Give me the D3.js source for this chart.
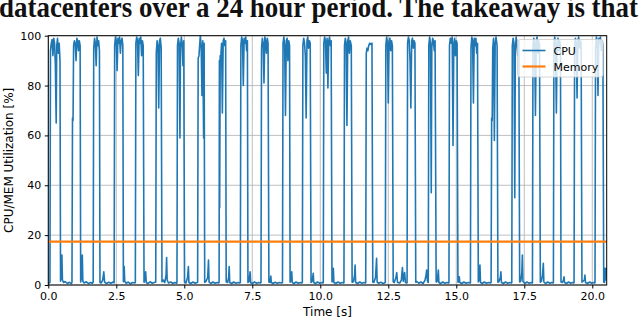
<!DOCTYPE html>
<html>
<head>
<meta charset="utf-8">
<script src="https://cdn.jsdelivr.net/npm/d3@7"></script>
<style>
  body { margin: 0; background: #fff; }
  svg { display: block; }
</style>
</head>
<body>
<div class="canvas"></div>
<script>
// data
const seriesNames = ["CPU", "Memory"];
const xTicks = [0, 2.5, 5, 7.5, 10, 12.5, 15, 17.5, 20];
const yTicks = [0, 20, 40, 60, 80, 100];

const memSamples = [[0, 17.4], [5, 17.4], [10, 17.4], [15, 17.4], [20.53, 17.4]];

const cpuSamples = [
  [0.00, 0.5], [0.04, 0.8],
  [0.06, 1.0], [0.08, 94], [0.11, 97], [0.14, 98.5], [0.17, 92], [0.20, 99], [0.23, 97], [0.26, 88], [0.29, 65], [0.31, 96], [0.34, 99], [0.37, 93], [0.40, 97], [0.43, 90],
  [0.45, 1.5], [0.48, 4], [0.50, 12], [0.52, 2], [0.56, 1], [0.62, 1.4], [0.70, 0.6], [0.78, 1.1], [0.84, 0.5],
  [0.87, 1.0], [0.89, 67], [0.91, 66], [0.93, 96], [0.96, 98], [0.99, 97], [1.02, 90], [1.05, 99], [1.08, 98], [1.11, 94], [1.14, 98], [1.17, 96],
  [1.19, 1.2], [1.22, 3], [1.25, 12], [1.27, 1.5], [1.32, 0.8], [1.40, 1.3], [1.48, 0.6], [1.56, 1.0], [1.62, 0.7],
  [1.65, 1.2], [1.67, 95], [1.70, 99], [1.73, 97], [1.76, 88], [1.79, 99.5], [1.82, 96], [1.85, 98], [1.88, 94],
  [1.90, 1.0], [1.94, 0.8], [2.00, 2], [2.04, 5.3], [2.07, 1.2], [2.14, 0.6], [2.22, 1.1], [2.30, 0.7], [2.38, 1.2],
  [2.42, 0.9], [2.44, 96], [2.47, 99.5], [2.50, 98], [2.53, 86], [2.56, 99], [2.59, 97], [2.62, 99.5], [2.65, 93], [2.68, 98], [2.71, 99], [2.74, 96],
  [2.76, 1.3], [2.79, 7.4], [2.81, 1.5], [2.86, 0.7], [2.94, 1.2], [3.02, 0.5], [3.10, 1.0], [3.18, 0.8],
  [3.20, 1.0], [3.22, 97], [3.25, 99.5], [3.28, 98], [3.31, 84], [3.34, 99], [3.37, 97], [3.40, 99.5], [3.43, 92], [3.46, 98], [3.49, 96],
  [3.52, 1.1], [3.55, 2], [3.58, 5.3], [3.60, 1.0], [3.66, 0.6], [3.74, 1.3], [3.82, 0.7], [3.90, 1.0],
  [3.95, 1.2], [3.97, 93], [4.00, 98], [4.03, 96], [4.06, 71], [4.09, 98], [4.12, 99], [4.15, 95],
  [4.18, 1.3], [4.22, 2], [4.28, 1], [4.33, 4], [4.35, 11], [4.37, 2], [4.42, 0.8], [4.50, 1.2], [4.58, 0.6], [4.66, 1.0], [4.72, 0.7],
  [4.73, 1.0], [4.75, 96], [4.78, 99], [4.81, 97], [4.84, 59], [4.86, 95], [4.89, 99.5], [4.92, 97], [4.95, 88], [4.98, 98],
  [5.01, 1.2], [5.06, 0.8], [5.12, 3], [5.15, 7.4], [5.17, 1.0], [5.24, 0.6], [5.32, 1.2], [5.40, 0.7], [5.47, 1.0],
  [5.49, 1.1], [5.51, 91], [5.54, 92], [5.57, 97], [5.59, 100], [5.62, 96], [5.65, 76], [5.68, 98], [5.71, 59], [5.73, 97],
  [5.75, 1.0], [5.80, 1.5], [5.86, 3], [5.89, 10], [5.91, 1.2], [5.97, 0.6], [6.05, 1.2], [6.13, 0.7], [6.21, 1.0], [6.26, 0.8],
  [6.28, 1.0], [6.29, 90], [6.30, 31], [6.32, 92], [6.34, 91], [6.37, 97], [6.40, 69], [6.43, 98], [6.46, 99], [6.49, 96], [6.52, 98],
  [6.54, 1.3], [6.59, 1.0], [6.63, 3], [6.65, 7.4], [6.67, 1.0], [6.74, 0.6], [6.82, 1.2], [6.90, 0.7], [6.98, 1.0], [7.04, 0.8],
  [7.06, 1.1], [7.08, 96], [7.11, 99.5], [7.14, 98], [7.17, 80], [7.20, 99], [7.23, 97], [7.26, 99.5], [7.29, 94], [7.32, 98],
  [7.34, 1.0], [7.38, 1.4], [7.42, 5.3], [7.44, 0.9], [7.50, 0.6], [7.58, 1.2], [7.66, 0.7], [7.74, 1.0], [7.80, 0.8],
  [7.82, 1.0], [7.84, 95], [7.87, 99], [7.90, 97], [7.93, 81], [7.96, 99.5], [7.99, 98], [8.02, 93], [8.05, 99], [8.08, 97],
  [8.11, 1.2], [8.15, 1.0], [8.18, 3.6], [8.20, 1.0], [8.26, 0.6], [8.34, 1.1], [8.42, 0.7], [8.50, 1.0], [8.58, 0.8],
  [8.61, 1.0], [8.63, 97], [8.66, 99.5], [8.69, 96], [8.72, 68], [8.75, 98], [8.78, 99], [8.81, 90], [8.84, 98], [8.87, 96],
  [8.89, 1.1], [8.93, 2], [8.95, 5.3], [8.97, 1.0], [9.03, 0.6], [9.11, 1.2], [9.19, 0.7], [9.27, 1.0], [9.32, 0.8],
  [9.34, 1.1], [9.36, 96], [9.39, 99], [9.42, 97], [9.45, 92], [9.48, 67], [9.51, 98], [9.54, 99.5], [9.57, 95], [9.60, 98], [9.63, 97],
  [9.66, 1.0], [9.70, 1.5], [9.74, 4.7], [9.76, 1.0], [9.82, 0.6], [9.90, 1.2], [9.98, 0.7], [10.06, 1.0], [10.10, 0.8],
  [10.11, 1.0], [10.13, 97], [10.16, 99.5], [10.19, 98], [10.22, 85], [10.25, 99], [10.28, 79], [10.31, 98], [10.34, 99.5], [10.37, 96], [10.40, 98],
  [10.43, 1.2], [10.46, 2], [10.48, 6.7], [10.50, 1.0], [10.57, 0.6], [10.65, 1.2], [10.73, 0.7], [10.81, 1.0], [10.86, 0.8],
  [10.87, 1.0], [10.89, 96], [10.92, 99], [10.95, 97], [10.98, 64], [11.01, 98], [11.04, 99.5], [11.07, 93], [11.10, 98], [11.14, 96],
  [11.17, 1.1], [11.22, 1.4], [11.26, 4], [11.28, 8], [11.30, 1.0], [11.37, 0.6], [11.45, 1.2], [11.53, 0.7], [11.61, 1.0], [11.66, 0.8],
  [11.67, 1.0], [11.69, 93], [11.72, 95], [11.75, 94], [11.78, 96], [11.82, 97], [11.86, 96.5], [11.90, 97],
  [11.93, 1.2], [11.97, 1.0], [12.03, 3], [12.07, 10.7], [12.09, 1.2], [12.15, 0.7], [12.23, 1.1], [12.31, 0.6], [12.38, 0.9],
  [12.39, 1.0], [12.41, 96], [12.44, 99.5], [12.47, 97], [12.50, 73], [12.53, 98], [12.56, 99], [12.59, 94], [12.62, 98], [12.65, 96],
  [12.68, 1.3], [12.72, 1.0], [12.78, 3], [12.81, 5], [12.84, 1.0], [12.92, 0.8], [12.98, 2], [13.02, 7], [13.05, 1.5], [13.10, 5], [13.13, 1.0], [13.18, 0.8],
  [13.19, 1.0], [13.21, 97], [13.24, 99.5], [13.27, 98], [13.30, 90], [13.33, 71], [13.36, 98], [13.39, 99], [13.42, 95], [13.45, 98], [13.48, 97],
  [13.51, 1.1], [13.55, 1.4], [13.62, 0.7], [13.70, 1.2], [13.78, 0.6], [13.85, 2], [13.89, 4], [13.91, 6], [13.94, 1.5], [13.96, 1.0],
  [13.97, 1.0], [13.99, 96], [14.02, 99.5], [14.05, 97], [14.08, 37], [14.10, 95], [14.13, 99], [14.16, 98], [14.19, 94], [14.22, 98],
  [14.26, 1.2], [14.30, 1.5], [14.34, 6], [14.36, 1.0], [14.42, 0.6], [14.50, 1.2], [14.58, 0.7], [14.66, 1.0], [14.72, 0.8],
  [14.73, 1.0], [14.75, 96], [14.78, 99], [14.81, 97], [14.85, 99.5], [14.88, 56], [14.91, 97], [14.94, 99], [14.97, 92], [15.00, 98], [15.03, 97],
  [15.06, 1.1], [15.09, 1.5], [15.11, 3.3], [15.13, 1.0], [15.20, 0.6], [15.28, 1.2], [15.36, 0.7], [15.44, 1.0], [15.51, 0.8],
  [15.52, 1.0], [15.54, 95], [15.57, 99.5], [15.60, 98], [15.63, 73], [15.66, 99], [15.69, 96], [15.72, 99], [15.75, 93], [15.78, 97],
  [15.81, 1.2], [15.84, 2], [15.87, 8], [15.89, 1.1], [15.95, 0.6], [16.03, 1.2], [16.11, 0.7], [16.19, 1.0], [16.26, 0.8],
  [16.28, 1.0], [16.30, 67], [16.32, 66], [16.34, 95], [16.37, 99], [16.40, 58], [16.43, 97], [16.46, 99.5], [16.50, 96],
  [16.53, 1.1], [16.57, 1.4], [16.62, 3], [16.64, 5.3], [16.66, 1.0], [16.73, 0.6], [16.81, 1.2], [16.89, 0.7], [16.97, 1.0], [17.03, 0.8],
  [17.04, 1.0], [17.06, 96], [17.09, 99], [17.12, 97], [17.15, 35], [17.17, 94], [17.20, 99.5], [17.23, 97], [17.26, 92], [17.30, 98],
  [17.33, 1.2], [17.37, 1.5], [17.41, 5], [17.43, 12], [17.45, 1.5], [17.52, 0.6], [17.60, 1.2], [17.68, 0.7], [17.75, 1.0], [17.79, 0.8],
  [17.80, 1.0], [17.82, 96], [17.85, 99], [17.88, 97], [17.91, 68], [17.94, 98], [17.97, 99.5], [18.00, 93], [18.03, 98], [18.06, 96],
  [18.09, 1.1], [18.13, 1.5], [18.17, 4], [18.20, 8.7], [18.22, 1.2], [18.28, 0.6], [18.36, 1.2], [18.44, 0.7], [18.51, 1.0], [18.56, 0.8],
  [18.57, 1.0], [18.59, 97], [18.62, 99.5], [18.65, 96], [18.68, 69], [18.71, 98], [18.74, 99], [18.77, 94], [18.80, 98], [18.83, 96],
  [18.85, 1.2], [18.90, 1.0], [18.94, 2], [18.96, 3.3], [18.98, 1.0], [19.05, 0.6], [19.13, 1.2], [19.21, 0.7], [19.28, 1.0], [19.32, 0.8],
  [19.33, 1.0], [19.35, 96], [19.38, 99], [19.41, 97], [19.44, 75], [19.47, 98], [19.50, 99.5], [19.53, 95], [19.56, 98], [19.59, 97],
  [19.62, 1.1], [19.66, 1.5], [19.71, 2], [19.73, 4], [19.75, 1.0], [19.82, 0.6], [19.90, 1.2], [19.98, 0.7], [20.05, 1.0], [20.09, 0.8],
  [20.10, 1.0], [20.12, 95], [20.15, 99.5], [20.18, 98], [20.21, 76], [20.24, 99], [20.27, 97], [20.30, 99.5], [20.33, 94], [20.36, 98], [20.39, 96],
  [20.42, 1.2], [20.45, 1.0], [20.47, 6.7], [20.49, 2], [20.53, 7]
];

const W = 640, H = 320;
const margin = {left: 48.3, right: 33.3, top: 35.7, bottom: 35};
const colors = {CPU: "#1f77b4", Memory: "#ff7f0e"};

const svg = d3.select(".canvas").append("svg")
  .attr("width", W).attr("height", H)
  .style("font-family", "'DejaVu Sans', sans-serif");

// clipped caption text from the page above the figure
svg.append("text")
  .attr("x", -1).attr("y", 16.5)
  .attr("textLength", 639).attr("lengthAdjust", "spacingAndGlyphs")
  .style("font-family", "'Liberation Serif', serif")
  .style("font-weight", "bold").style("font-size", "30px")
  .attr("fill", "#111")
  .text("datacenters over a 24 hour period. The takeaway is that");

const x = d3.scaleLinear().domain([0, 20.53]).range([margin.left, W - margin.right]);
const y = d3.scaleLinear().domain([0, 100]).range([H - margin.bottom, margin.top]);

// grid
const grid = svg.append("g");
grid.selectAll(".gx").data(xTicks).enter().append("line")
  .attr("x1", d => x(d)).attr("x2", d => x(d))
  .attr("y1", y(0)).attr("y2", y(100))
  .attr("stroke", "#b0b0b0").attr("stroke-width", 0.8);
grid.selectAll(".gy").data(yTicks).enter().append("line")
  .attr("x1", x.range()[0]).attr("x2", x.range()[1])
  .attr("y1", d => y(d)).attr("y2", d => y(d))
  .attr("stroke", "#b0b0b0").attr("stroke-width", 0.8);

svg.append("clipPath").attr("id", "plotClip").append("rect")
  .attr("x", x.range()[0]).attr("y", y(100))
  .attr("width", x.range()[1] - x.range()[0]).attr("height", y(0) - y(100));

const line = d3.line().x(d => x(d[0])).y(d => y(d[1]));

const plot = svg.append("g").attr("clip-path", "url(#plotClip)");
plot.append("path").datum(cpuSamples)
  .attr("d", line).attr("fill", "none")
  .attr("stroke", colors.CPU).attr("stroke-width", 1.6).attr("stroke-linejoin", "round");
plot.append("path").datum(memSamples)
  .attr("d", line).attr("fill", "none")
  .attr("stroke", colors.Memory).attr("stroke-width", 2.4);

// frame
svg.append("rect")
  .attr("x", x.range()[0]).attr("y", y(100))
  .attr("width", x.range()[1] - x.range()[0]).attr("height", y(0) - y(100))
  .attr("fill", "none").attr("stroke", "#000").attr("stroke-width", 1);

// axes
const xAxis = svg.append("g").attr("transform", `translate(0,${y(0)})`)
  .call(d3.axisBottom(x).tickValues(xTicks).tickFormat(d3.format(".1f")).tickSize(3.5).tickPadding(3.5));
const yAxis = svg.append("g").attr("transform", `translate(${x(0)},0)`)
  .call(d3.axisLeft(y).tickValues(yTicks).tickSize(3.5).tickPadding(3.5));
[xAxis, yAxis].forEach(a => {
  a.select(".domain").remove();
  a.selectAll("text").style("font-family", "'DejaVu Sans', sans-serif").style("font-size", "11px").attr("fill", "#000");
  a.selectAll("line").attr("stroke", "#000");
});

svg.append("text")
  .attr("x", (x.range()[0] + x.range()[1]) / 2).attr("y", 316)
  .attr("text-anchor", "middle").style("font-size", "12px")
  .text("Time [s]");

svg.append("text")
  .attr("transform", `translate(13,${(y(0) + y(100)) / 2}) rotate(-90)`)
  .attr("text-anchor", "middle").style("font-size", "12px")
  .text("CPU/MEM Utilization [%]");

// legend
const legend = svg.append("g").attr("transform", "translate(517.5,39.5)");
legend.append("rect")
  .attr("width", 85.5).attr("height", 37.5).attr("rx", 2.5)
  .attr("fill", "#fff").attr("fill-opacity", 0.8)
  .attr("stroke", "#cccccc").attr("stroke-width", 0.8);
seriesNames.forEach((name, i) => {
  const g = legend.append("g").attr("transform", `translate(0,${11 + i * 16})`);
  g.append("line").attr("x1", 5).attr("x2", 28)
    .attr("stroke", colors[name]).attr("stroke-width", name === "CPU" ? 1.6 : 2.2);
  g.append("text").attr("x", 36).attr("y", 4)
    .style("font-size", "11px").text(name);
});
</script>
</body>
</html>
